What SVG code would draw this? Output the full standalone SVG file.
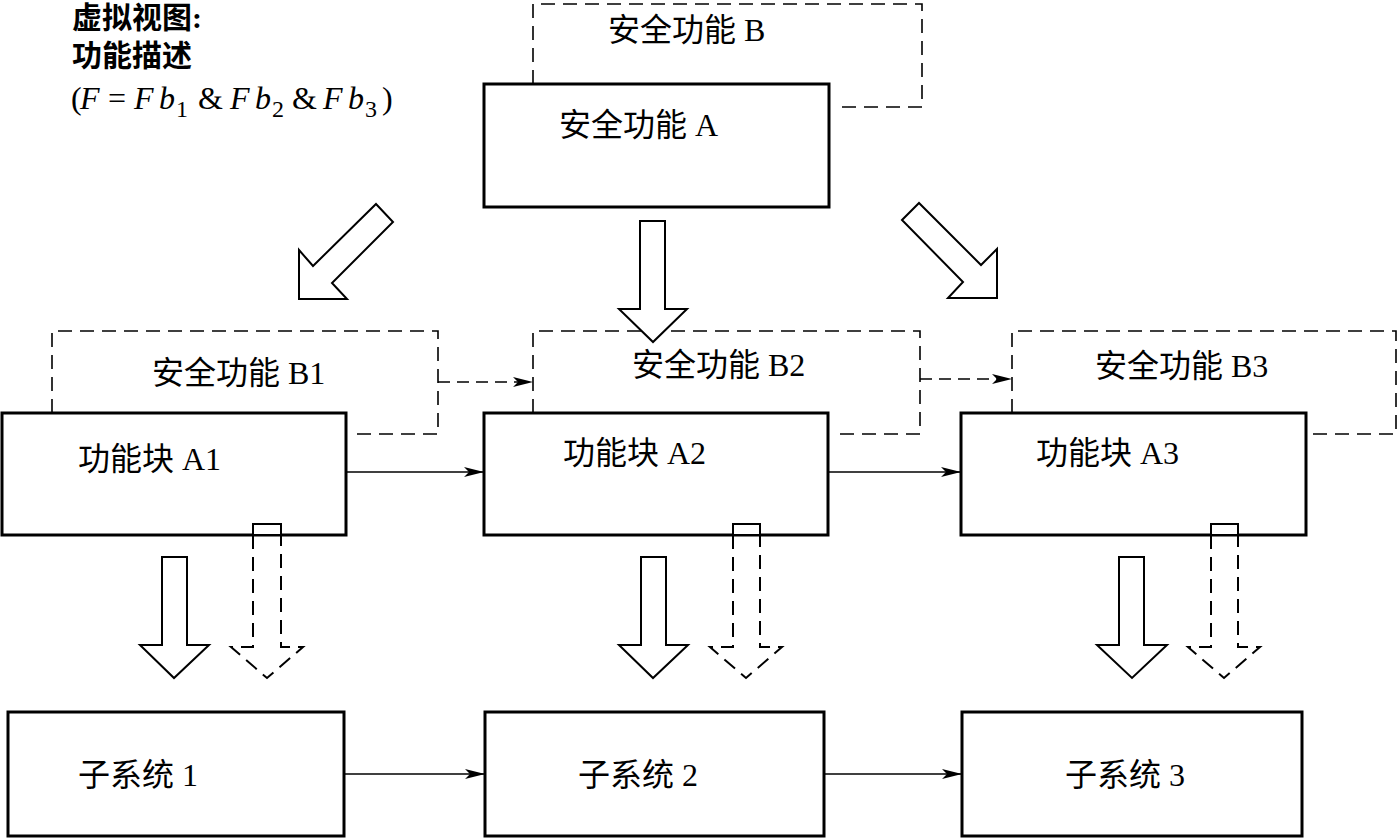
<svg xmlns="http://www.w3.org/2000/svg" width="1399" height="838" viewBox="0 0 1399 838">
<style>
.box{fill:none;stroke:#000;stroke-width:3}
.dash{fill:none;stroke:#000;stroke-width:1.6;stroke-dasharray:14 8}
.big{fill:#fff;stroke:#000;stroke-width:2;stroke-linejoin:miter}
.bigd{fill:none;stroke:#000;stroke-width:2;stroke-dasharray:14 8}
.con{fill:none;stroke:#000;stroke-width:1.6}
.cond{fill:none;stroke:#000;stroke-width:1.6;stroke-dasharray:12 7}
.t{font-family:"Liberation Serif","Noto Sans CJK SC",serif;font-size:32px;fill:#000}
.h{font-family:"Liberation Serif","Noto Sans CJK SC",serif;font-size:30px;font-weight:bold;fill:#000}
.f{font-family:"Liberation Serif",serif;font-size:32px;fill:#000}
.i{font-style:italic}
.s{font-size:24px}
</style>
<defs>
<marker id="ah" viewBox="0 0 20 10" refX="20" refY="5" markerWidth="20" markerHeight="10" markerUnits="userSpaceOnUse" orient="auto">
<path d="M0,0 L20,5 L0,10 L5,5 Z" fill="#000"/>
</marker>
</defs>

<g id="legend">
<text class="h" x="72" y="28">虚拟视图:</text>
<text class="h" x="72" y="66">功能描述</text>
<g class="f">
<text x="71" y="109">(</text>
<text class="i" x="80" y="109">F</text>
<text x="108" y="109">=</text>
<text class="i" x="134" y="109">F</text>
<text class="i" x="159" y="109">b</text>
<text class="s" x="176" y="117">1</text>
<text x="198" y="109">&amp;</text>
<text class="i" x="230" y="109">F</text>
<text class="i" x="255" y="109">b</text>
<text class="s" x="272" y="117">2</text>
<text x="292" y="109">&amp;</text>
<text class="i" x="323" y="109">F</text>
<text class="i" x="348" y="109">b</text>
<text class="s" x="365" y="117">3</text>
<text x="382" y="109">)</text>
</g>
</g>

<g id="safetyB">
<path class="dash" d="M533,84 V4 H922 V107 H838"/>
<text class="t" x="608" y="41">安全功能 B</text>
</g>
<g id="safetyA">
<rect class="box" x="484" y="84" width="345" height="123"/>
<text class="t" x="559" y="136">安全功能 A</text>
</g>

<g id="safetyB1">
<path class="dash" d="M52,413 V331 H438 V434 H356"/>
<text class="t" x="152" y="384">安全功能 B1</text>
</g>
<g id="safetyB2">
<path class="dash" d="M533,413 V331 H920 V434 H838"/>
<text class="t" x="632" y="376">安全功能 B2</text>
</g>
<g id="safetyB3">
<path class="dash" d="M1012,413 V331 H1396 V434 H1313"/>
<text class="t" x="1095" y="377">安全功能 B3</text>
</g>

<g id="blockA1">
<rect class="box" x="2" y="413" width="344" height="122"/>
<text class="t" x="78" y="470">功能块 A1</text>
</g>
<g id="blockA2">
<rect class="box" x="484" y="413" width="344" height="122"/>
<text class="t" x="563" y="464">功能块 A2</text>
</g>
<g id="blockA3">
<rect class="box" x="961" y="413" width="345" height="122"/>
<text class="t" x="1036" y="464">功能块 A3</text>
</g>

<g id="sub1">
<rect class="box" x="8" y="712" width="336" height="124"/>
<text class="t" x="78" y="786">子系统 1</text>
</g>
<g id="sub2">
<rect class="box" x="485" y="712" width="339" height="124"/>
<text class="t" x="578" y="786">子系统 2</text>
</g>
<g id="sub3">
<rect class="box" x="962" y="712" width="340" height="124"/>
<text class="t" x="1065" y="786">子系统 3</text>
</g>

<g id="connectors">
<polygon class="big" points="376,204 393,222 332,283 347,299 299,299 299,250 313,266"/>
<polygon class="big" points="640,221 665,221 665,309 687,309 653,342 619,309 640,309"/>
<polygon class="big" points="902,220 919,203 981,265 997,249 997,298 948,298 963,282"/>

<line class="cond" x1="438" y1="382" x2="533" y2="382" marker-end="url(#ah)"/>
<line class="cond" x1="920" y1="379" x2="1012" y2="379" marker-end="url(#ah)"/>

<line class="con" x1="346" y1="472" x2="484" y2="472" marker-end="url(#ah)"/>
<line class="con" x1="828" y1="472" x2="961" y2="472" marker-end="url(#ah)"/>

<line class="con" x1="344" y1="774" x2="485" y2="774" marker-end="url(#ah)"/>
<line class="con" x1="824" y1="774" x2="962" y2="774" marker-end="url(#ah)"/>

<polygon class="big" points="162,557 187,557 187,645 209,645 174,678 140,645 162,645"/>
<rect class="big" x="253" y="524" width="28" height="11" fill="none"/>
<path class="bigd" d="M253,535 V647 H231 L267,678 L303,647 H281 V535"/>

<polygon class="big" points="641,557 666,557 666,645 688,645 653,678 619,645 641,645"/>
<rect class="big" x="733" y="524" width="27" height="11" fill="none"/>
<path class="bigd" d="M733,535 V647 H710 L746,678 L782,647 H760 V535"/>

<polygon class="big" points="1119,557 1144,557 1144,645 1167,645 1132,678 1097,645 1119,645"/>
<rect class="big" x="1211" y="524" width="27" height="11" fill="none"/>
<path class="bigd" d="M1211,535 V647 H1188 L1224,678 L1260,647 H1238 V535"/>
</g>
</svg>
